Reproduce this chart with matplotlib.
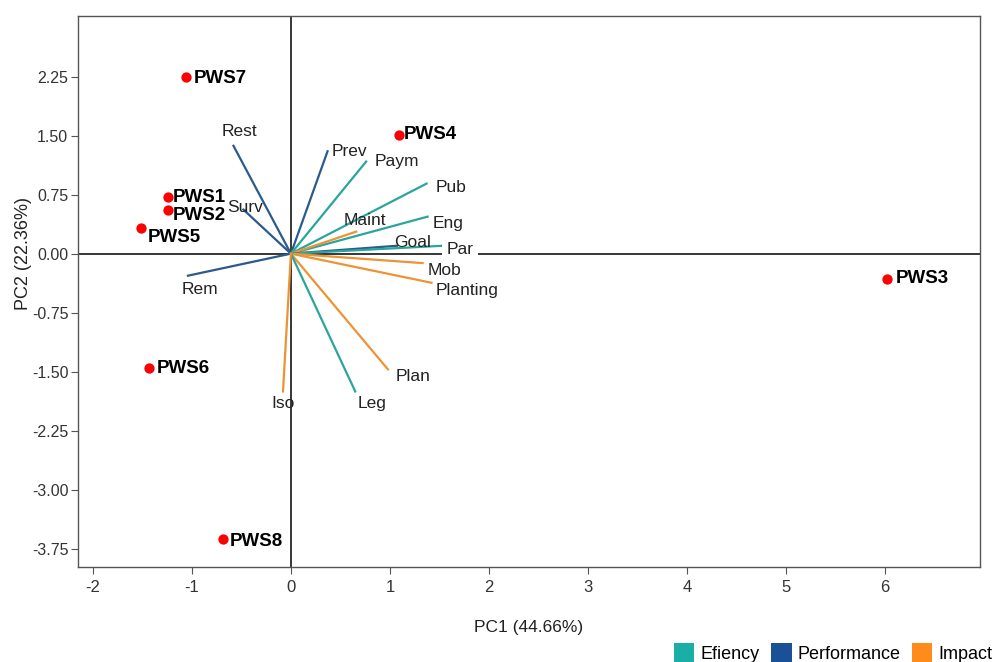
import matplotlib
matplotlib.use("Agg")
import matplotlib.pyplot as plt
from matplotlib.patches import Patch

plt.rcParams['font.family'] = ['Liberation Sans', 'DejaVu Sans']
plt.rcParams['axes.unicode_minus'] = False

# sample scores
pws_names = ['PWS1', 'PWS2', 'PWS3', 'PWS4', 'PWS5', 'PWS6', 'PWS7', 'PWS8']
pws_pc1 = [-1.24, -1.24, 6.02, 1.09, -1.51, -1.43, -1.06, -0.69]
pws_pc2 = [0.72, 0.56, -0.32, 1.51, 0.32, -1.45, 2.25, -3.63]

# variable loadings
var_names = ['Rest', 'Prev', 'Paym', 'Pub', 'Eng', 'Maint', 'Goal', 'Par',
             'Mob', 'Planting', 'Surv', 'Rem', 'Plan', 'Leg', 'Iso']
var_pc1 = [-0.58, 0.37, 0.76, 1.37, 1.38, 0.66, 1.07, 1.53,
           1.33, 1.42, -0.48, -1.04, 0.98, 0.65, -0.08]
var_pc2 = [1.37, 1.30, 1.17, 0.89, 0.47, 0.28, 0.10, 0.10,
           -0.12, -0.37, 0.56, -0.28, -1.47, -1.75, -1.75]
var_group = ['Performance', 'Performance', 'Efiency', 'Efiency', 'Efiency', 'Impact',
             'Performance', 'Efiency', 'Impact', 'Impact', 'Performance', 'Performance',
             'Impact', 'Efiency', 'Impact']

groups = ['Efiency', 'Performance', 'Impact']
colors = {'Efiency': '#2AA59E', 'Performance': '#2B5A8C', 'Impact': '#EE9333'}
legend_colors = {'Efiency': '#1AAFA6', 'Performance': '#1A5096', 'Impact': '#FF8C1A'}

# label placement (offset in pixels, alignment)
var_offsets = [(6, 14, 'center'), (4, 0, 'left'), (8, 0, 'left'), (9, -4, 'left'),
               (5, -7, 'left'), (9, 11, 'center'), (-3, 3, 'left'), (4, -4, 'left'),
               (5, -7, 'left'), (4, -8, 'left'), (2, 2, 'center'), (12, -14, 'center'),
               (8, -7, 'left'), (2, -12, 'left'), (0, -12, 'center')]
pws_offsets = [(5, -1), (5, -6), (9, 0), (5, 0), (6, -9), (7, -1), (8, -2), (7, -2)]

fig, ax = plt.subplots(figsize=(9.95, 6.62), dpi=100)
fig.subplots_adjust(left=0.0784, right=0.985, top=0.976, bottom=0.1435)

ax.axhline(0, color='black', lw=1.1, zorder=1)
ax.axvline(0, color='black', lw=1.1, zorder=1)

for name, x, y, g, (dx, dy, ha) in zip(var_names, var_pc1, var_pc2, var_group, var_offsets):
    ax.plot([0, x], [0, y], color=colors[g], lw=1.6, zorder=2)
    bbox = None
    if name == 'Par':
        bbox = dict(facecolor='white', edgecolor='none', pad=3)
    ax.annotate(name, (x, y), xytext=(dx, dy), textcoords='offset pixels',
                ha=ha, va='center', fontsize=12.5, color='#222222', bbox=bbox, zorder=4)

ax.scatter(pws_pc1, pws_pc2, s=55, color='#FF0000', zorder=5, linewidths=0)
for name, x, y, (dx, dy) in zip(pws_names, pws_pc1, pws_pc2, pws_offsets):
    ax.annotate(name, (x, y), xytext=(dx, dy), textcoords='offset pixels',
                ha='left', va='center', fontsize=13.5, fontweight='bold', color='black', zorder=6)

ax.set_xlim(-2.15, 6.96)
ax.set_ylim(-3.98, 3.02)
ax.set_xticks(range(-2, 7))
ax.set_yticks([2.25, 1.5, 0.75, 0.0, -0.75, -1.5, -2.25, -3.0, -3.75])
ax.set_yticklabels(['2.25', '1.50', '0.75', '0.00', '-0.75', '-1.50', '-2.25', '-3.00', '-3.75'])
ax.tick_params(direction='out', length=5, color='#555555', labelcolor='#333333')
ax.tick_params(axis='y', labelsize=11.5, pad=2)
ax.tick_params(axis='x', labelsize=12, pad=4)
for s in ax.spines.values():
    s.set_color('#555555')
    s.set_linewidth(1)

ax.set_xlabel('PC1 (44.66%)', fontsize=12.5, color='#222222', labelpad=18)
ax.set_ylabel('PC2 (22.36%)', fontsize=13, color='#222222')
ax.yaxis.set_label_coords(-0.051, 0.568)

handles = [Patch(facecolor=legend_colors[g], edgecolor='none', label=g) for g in groups]
fig.legend(handles=handles, loc='lower right', bbox_to_anchor=(1.005, -0.012), ncol=3,
           frameon=False, fontsize=13, handlelength=1.15, handleheight=1.25,
           handletextpad=0.35, columnspacing=0.6, borderaxespad=0.0)

fig.savefig('out.png', dpi=100)
